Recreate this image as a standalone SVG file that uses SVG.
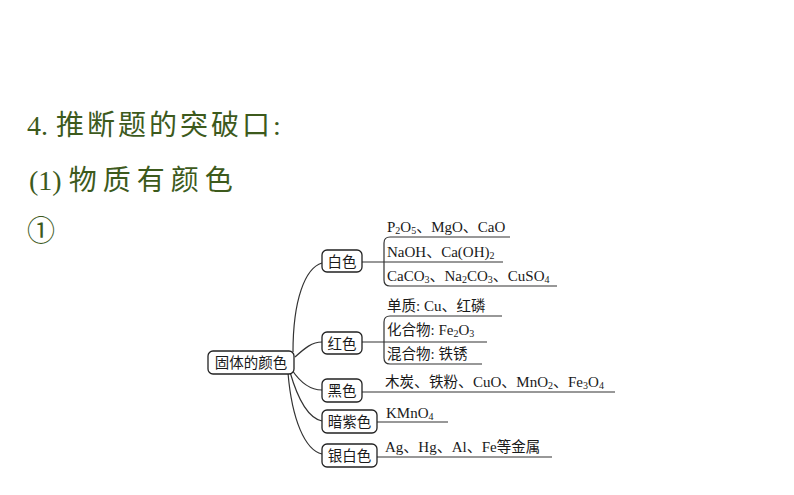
<svg xmlns="http://www.w3.org/2000/svg" width="794" height="495" viewBox="0 0 794 495">
<style>
.h{font-family:"Liberation Serif","Noto Sans CJK SC",serif;font-size:28px;fill:#3d5a1c}
.n{fill:#fff;stroke:#222;stroke-width:1.3}
.nt{font-family:"Noto Sans CJK SC",sans-serif;font-size:14.5px;fill:#1a1a1a}
.t{font-family:"Liberation Serif","Noto Sans CJK SC",serif;font-size:15px;fill:#1a1a1a}
.c{font-family:"Noto Sans CJK SC",sans-serif;font-size:14.5px}
.s{font-size:10px}
.l{fill:none;stroke:#333;stroke-width:1.2}
</style>
<rect width="794" height="495" fill="#fff"/>
<text class="h" x="27" y="135">4.<tspan dx="8" letter-spacing="3">推断题的突破口:</tspan></text>
<text class="h" x="29" y="190">(1)<tspan dx="7" letter-spacing="6">物质有颜色</tspan></text>
<text class="h" x="27" y="241" font-size="30">①</text>

<g id="connectors" class="l">
<path d="M293,352 C293,300 305,268 322,263"/>
<path d="M295,357 C305,348 312,342 322,342"/>
<path d="M292,370 C300,382 310,390 322,390"/>
<path d="M290,372 C298,400 308,418 322,421"/>
<path d="M288,373 C292,420 305,450 322,454"/>
<path d="M362,262 H503"/>
<path d="M510,237 H390 Q384,237 384,243 V280 Q384,286 390,286 H557"/>
<path d="M362,342 H487"/>
<path d="M502,316 H390 Q384,316 384,322 V358 Q384,364 390,364 H482"/>
<path d="M362,392 H615"/>
<path d="M377,422 H448"/>
<path d="M377,457 H552"/>
</g>

<g id="root"><rect class="n" x="208" y="351" width="86" height="23" rx="5"/><text class="nt" x="251" y="368" text-anchor="middle">固体的颜色</text></g>
<g id="white"><rect class="n" x="322" y="250" width="40" height="22" rx="5"/><text class="nt" x="342" y="266.5" text-anchor="middle">白色</text></g>
<g id="red"><rect class="n" x="322" y="332" width="40" height="22" rx="5"/><text class="nt" x="342" y="348.5" text-anchor="middle">红色</text></g>
<g id="black"><rect class="n" x="322" y="379" width="40" height="23" rx="5"/><text class="nt" x="342" y="396" text-anchor="middle">黑色</text></g>
<g id="purple"><rect class="n" x="322" y="410" width="55" height="23" rx="5"/><text class="nt" x="349.5" y="427" text-anchor="middle">暗紫色</text></g>
<g id="silver"><rect class="n" x="322" y="444" width="55" height="23" rx="5"/><text class="nt" x="349.5" y="461" text-anchor="middle">银白色</text></g>

<g id="white-items">
<text class="t" x="387" y="232">P<tspan class="s" dy="2">2</tspan><tspan dy="-2">O</tspan><tspan class="s" dy="2">5</tspan><tspan dy="-2">、MgO、CaO</tspan></text>
<text class="t" x="387" y="257">NaOH、Ca(OH)<tspan class="s" dy="2">2</tspan></text>
<text class="t" x="387" y="281">CaCO<tspan class="s" dy="2">3</tspan><tspan dy="-2">、Na</tspan><tspan class="s" dy="2">2</tspan><tspan dy="-2">CO</tspan><tspan class="s" dy="2">3</tspan><tspan dy="-2">、CuSO</tspan><tspan class="s" dy="2">4</tspan></text>
</g>
<g id="red-items">
<text class="t" x="387" y="311"><tspan class="c">单质</tspan>: Cu、<tspan class="c">红磷</tspan></text>
<text class="t" x="387" y="335"><tspan class="c">化合物</tspan>: Fe<tspan class="s" dy="2">2</tspan><tspan dy="-2">O</tspan><tspan class="s" dy="2">3</tspan></text>
<text class="t" x="387" y="359"><tspan class="c">混合物</tspan>: <tspan class="c">铁锈</tspan></text>
</g>
<g id="black-items">
<text class="t" x="385" y="387"><tspan class="c">木炭</tspan>、<tspan class="c">铁粉</tspan>、CuO、MnO<tspan class="s" dy="2">2</tspan><tspan dy="-2">、Fe</tspan><tspan class="s" dy="2">3</tspan><tspan dy="-2">O</tspan><tspan class="s" dy="2">4</tspan></text>
</g>
<g id="purple-items">
<text class="t" x="386" y="418">KMnO<tspan class="s" dy="2">4</tspan></text>
</g>
<g id="silver-items">
<text class="t" x="385" y="452">Ag、Hg、Al、Fe<tspan class="c">等金属</tspan></text>
</g>
</svg>
